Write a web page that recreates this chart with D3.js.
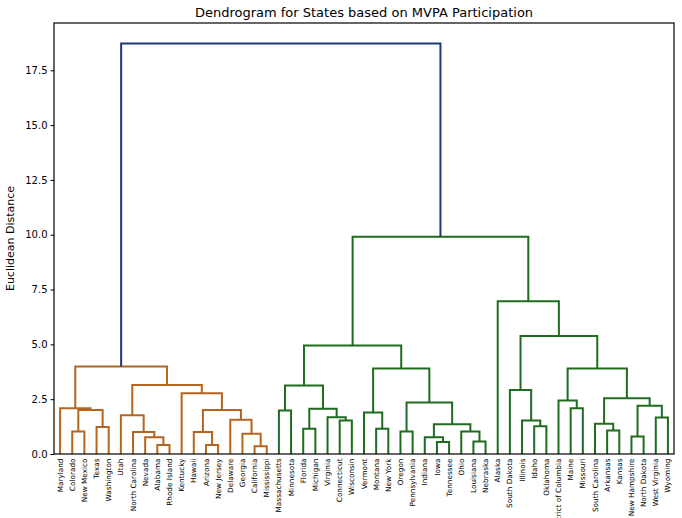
<!DOCTYPE html>
<html>
<head>
<meta charset="utf-8">
<script src="https://cdn.jsdelivr.net/npm/d3@7"></script>
<style>
  body { margin: 0; background: #fff; }
  text { font-family: "DejaVu Sans", sans-serif; fill: #000; }
</style>
</head>
<body>
<div id="chart"></div>
<script>
// Dendrogram for States based on MVPA Participation

// Leaves in the order they appear along the x axis
const leaves = [
  "Maryland", "Colorado", "New Mexico", "Texas", "Washington", "Utah",
  "North Carolina", "Nevada", "Alabama", "Rhode Island", "Kentucky", "Hawaii",
  "Arizona", "New Jersey", "Delaware", "Georgia", "California", "Mississippi",
  "Massachusetts", "Minnesota", "Florida", "Michigan", "Virginia", "Connecticut",
  "Wisconsin", "Vermont", "Montana", "New York", "Oregon", "Pennsylvania",
  "Indiana", "Iowa", "Tennessee", "Ohio", "Louisiana", "Nebraska", "Alaska",
  "South Dakota", "Illinois", "Idaho", "Oklahoma", "District of Columbia",
  "Maine", "Missouri", "South Carolina", "Arkansas", "Kansas", "New Hampshire",
  "North Dakota", "West Virginia", "Wyoming"
];

// Linkage: [left child, right child] — ids < leaves.length are leaves,
// id leaves.length + k is the k-th merge below
const mergeChildren = [
  [1, 2], [3, 4], [51, 52], [0, 53],
  [8, 9], [7, 55], [6, 56], [5, 57],
  [12, 13], [11, 59], [16, 17], [15, 61], [14, 62], [60, 63], [10, 64],
  [58, 65], [54, 66],
  [18, 19], [20, 21], [23, 24], [22, 70], [69, 71], [68, 72],
  [26, 27], [25, 74], [28, 29], [31, 32], [30, 77], [34, 35], [33, 79],
  [78, 80], [76, 81], [75, 82], [73, 83],
  [39, 40], [38, 85], [37, 86], [42, 43], [41, 88], [45, 46], [44, 90],
  [47, 48], [49, 50], [92, 93], [91, 94], [89, 95], [87, 96], [36, 97],
  [84, 98], [67, 99]
];

// Euclidean distance of each merge (same order as mergeChildren)
const mergeHeights = [
  1.03, 1.23, 2.01, 2.09,
  0.41, 0.76, 1.00, 1.77,
  0.41, 1.00, 0.35, 0.92, 1.56, 2.01, 2.77,
  3.15, 3.99,
  1.98, 1.15, 1.53, 1.68, 2.06, 3.12,
  1.15, 1.89, 1.03, 0.55, 0.76, 0.57, 1.03,
  1.36, 2.35, 3.90, 4.95,
  1.26, 1.53, 2.92, 2.09, 2.44, 1.07, 1.38,
  0.80, 1.66, 2.20, 2.54, 3.90, 5.38, 6.97,
  9.91, 18.72
];

const yTicks = [0, 2.5, 5, 7.5, 10, 12.5, 15, 17.5];

const clusterColors = ["#b5651f", "#1f6b1f"];
const aboveColor = "#1f3a73";

const W = 682, H = 518;
const margin = { top: 23, right: 8, bottom: 64, left: 54 };
const width = W - margin.left - margin.right,
    height = H - margin.top - margin.bottom;

const svg = d3.select("#chart")
    .append("svg")
    .attr("width", W)
    .attr("height", H);

const g = svg.append("g")
    .attr("transform", `translate(${margin.left},${margin.top})`);

const n = leaves.length;
const maxH = d3.max(mergeHeights);

// scipy style: y range up to 1.05 * tallest merge
const x = d3.scalePoint()
    .domain(d3.range(n))
    .range([0, width])
    .padding(0.5);
const y = d3.scaleLinear()
    .domain([0, maxH * 1.05])
    .range([height, 0]);

// positions of every node (leaves then merges)
const nodeX = leaves.map((d, i) => x(i));
const nodeY = leaves.map(() => 0);
mergeChildren.forEach((c, k) => {
    nodeX.push((nodeX[c[0]] + nodeX[c[1]]) / 2);
    nodeY.push(mergeHeights[k]);
});

// colour by cluster below the threshold (0.7 * max, like scipy)
const threshold = 0.7 * maxH;
const mergeColor = new Array(mergeChildren.length);
let nextCluster = 0;
function paint(id, color) {
    if (id < n) return;
    const k = id - n;
    mergeColor[k] = color;
    mergeChildren[k].forEach(c => paint(c, color));
}
function assign(id) {
    if (id < n) return;
    const k = id - n;
    if (mergeHeights[k] >= threshold) {
        mergeColor[k] = aboveColor;
        mergeChildren[k].forEach(assign);
    } else {
        paint(id, clusterColors[nextCluster++ % clusterColors.length]);
    }
}
assign(n + mergeChildren.length - 1);

// links
g.append("g")
    .selectAll("path")
    .data(mergeChildren)
    .join("path")
    .attr("fill", "none")
    .attr("stroke", (d, k) => mergeColor[k])
    .attr("stroke-width", 2)
    .attr("d", (d, k) => {
        const a = d[0], b = d[1];
        const h = y(mergeHeights[k]);
        return `M${nodeX[a]},${y(nodeY[a])}V${h}H${nodeX[b]}V${y(nodeY[b])}`;
    });

// Y axis
const yAxis = g.append("g")
    .call(d3.axisLeft(y).tickValues(yTicks).tickFormat(d3.format(".1f")).tickSize(3.5).tickPadding(3));
yAxis.select(".domain").remove();
yAxis.selectAll(".tick line").attr("stroke", "#000").attr("stroke-width", 1);
yAxis.selectAll(".tick text").style("font-size", "10px").style("font-family", "DejaVu Sans");

// leaf labels
g.append("g")
    .selectAll("text")
    .data(leaves)
    .join("text")
    .attr("transform", (d, i) => `translate(${x(i)},${height + 4.5}) rotate(-90)`)
    .attr("text-anchor", "end")
    .attr("dy", "0.35em")
    .style("font-size", "7.3px")
    .text(d => d);

// frame
g.append("rect")
    .attr("width", width)
    .attr("height", height)
    .attr("fill", "none")
    .attr("stroke", "#000")
    .attr("stroke-width", 1.2);

// title
svg.append("text")
    .attr("x", margin.left + width / 2)
    .attr("y", 17)
    .attr("text-anchor", "middle")
    .style("font-size", "13px")
    .text("Dendrogram for States based on MVPA Participation");

// y label
svg.append("text")
    .attr("transform", `translate(14,${margin.top + height / 2}) rotate(-90)`)
    .attr("text-anchor", "middle")
    .style("font-size", "11px")
    .text("Euclidean Distance");
</script>
</body>
</html>
